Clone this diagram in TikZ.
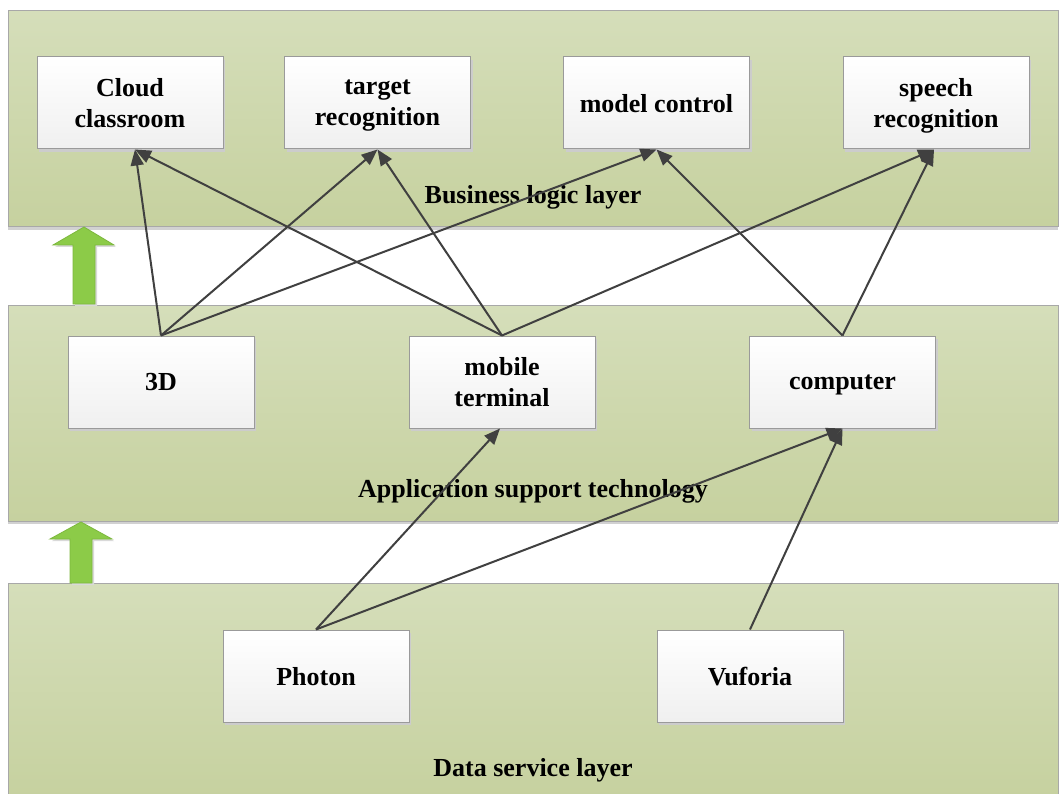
\documentclass[tikz,border=0pt]{standalone}
\usepackage{fontspec}
\setmainfont{Liberation Serif}
\usetikzlibrary{arrows.meta,shadows}
\definecolor{layertop}{HTML}{D5DEBA}
\definecolor{layerbot}{HTML}{C6D19F}
\definecolor{layerline}{HTML}{A8A8A8}
\definecolor{boxline}{HTML}{9A9A9A}
\definecolor{arrowgray}{HTML}{404040}
\definecolor{upgreen}{HTML}{8CCB48}
\definecolor{upgreenline}{HTML}{7DB83E}
\tikzset{
  layer/.style={draw=layerline, line width=1pt, top color=layertop, bottom color=layerbot,
    drop shadow={shadow xshift=0pt, shadow yshift=-3pt, fill=black!18, opacity=1}},
  item/.style={draw=boxline, line width=1pt, top color=white, bottom color=black!6,
    minimum width=186pt, minimum height=92pt, inner sep=0pt, align=center,
    text depth=0pt,
    font=\fontsize{26}{31}\selectfont\bfseries,
    drop shadow={shadow xshift=2pt, shadow yshift=-3pt, fill=black!20, opacity=1}},
  layertext/.style={inner sep=0pt, font=\fontsize{26}{31}\selectfont\bfseries},
  link/.style={draw=arrowgray, line width=2pt, -{Triangle[length=16pt,width=13pt]}},
  uparrow/.style={fill=upgreen, draw=upgreenline, line width=0.8pt,
    drop shadow={shadow xshift=2pt, shadow yshift=-2pt, fill=black!15, opacity=1}}
}
\begin{document}
\begin{tikzpicture}[x=1pt,y=-1pt]
\useasboundingbox (0,0) rectangle (1062,794);
\fill[white] (0,0) rectangle (1062,794);
% layers
\path[layer] (8,11) rectangle (1058,227);
\path[layer] (8,305) rectangle (1058,521);
\path[layer] (8,583) rectangle (1058,800);
% up arrows
\path[uparrow] (84,227) -- (114,245) -- (95,245) -- (95,304) -- (73,304) -- (73,245) -- (53,245) -- cycle;
\path[uparrow] (81,522) -- (112,539) -- (92,539) -- (92,583) -- (70,583) -- (70,539) -- (50,539) -- cycle;
% layer labels
\node[layertext] (lbl1) at (533,197) {Business logic layer};
\node[layertext] (lbl2) at (533,491) {Application support technology};
\node[layertext] (lbl3) at (533,770) {Data service layer};
% boxes
\node[item] (cloud)  at (130,103) {Cloud\\classroom};
\node[item] (target) at (377.5,103) {target\\recognition};
\node[item] (model)  at (656.5,103) {model control};
\node[item] (speech) at (936,103) {speech\\recognition};
\node[item] (threed) at (161,382) {3D};
\node[item] (mobile) at (502,382) {mobile\\terminal};
\node[item] (comp)   at (842.5,382) {computer};
\node[item] (photon) at (316,676) {Photon};
\node[item] (vuf)    at (750,676) {Vuforia};
% links
\draw[link] (threed.north) -- ([xshift=5pt]cloud.south);
\draw[link] (threed.north) -- (target.south);
\draw[link] (threed.north) -- (model.south);
\draw[link] (mobile.north) -- ([xshift=5pt]cloud.south);
\draw[link] (mobile.north) -- (target.south);
\draw[link] (mobile.north) -- ([xshift=-2pt]speech.south);
\draw[link] (comp.north) -- (model.south);
\draw[link] (comp.north) -- ([xshift=-2pt]speech.south);
\draw[link] (photon.north) -- ([xshift=-2pt]mobile.south);
\draw[link] (photon.north) -- (comp.south);
\draw[link] (vuf.north) -- (comp.south);
\end{tikzpicture}
\end{document}
